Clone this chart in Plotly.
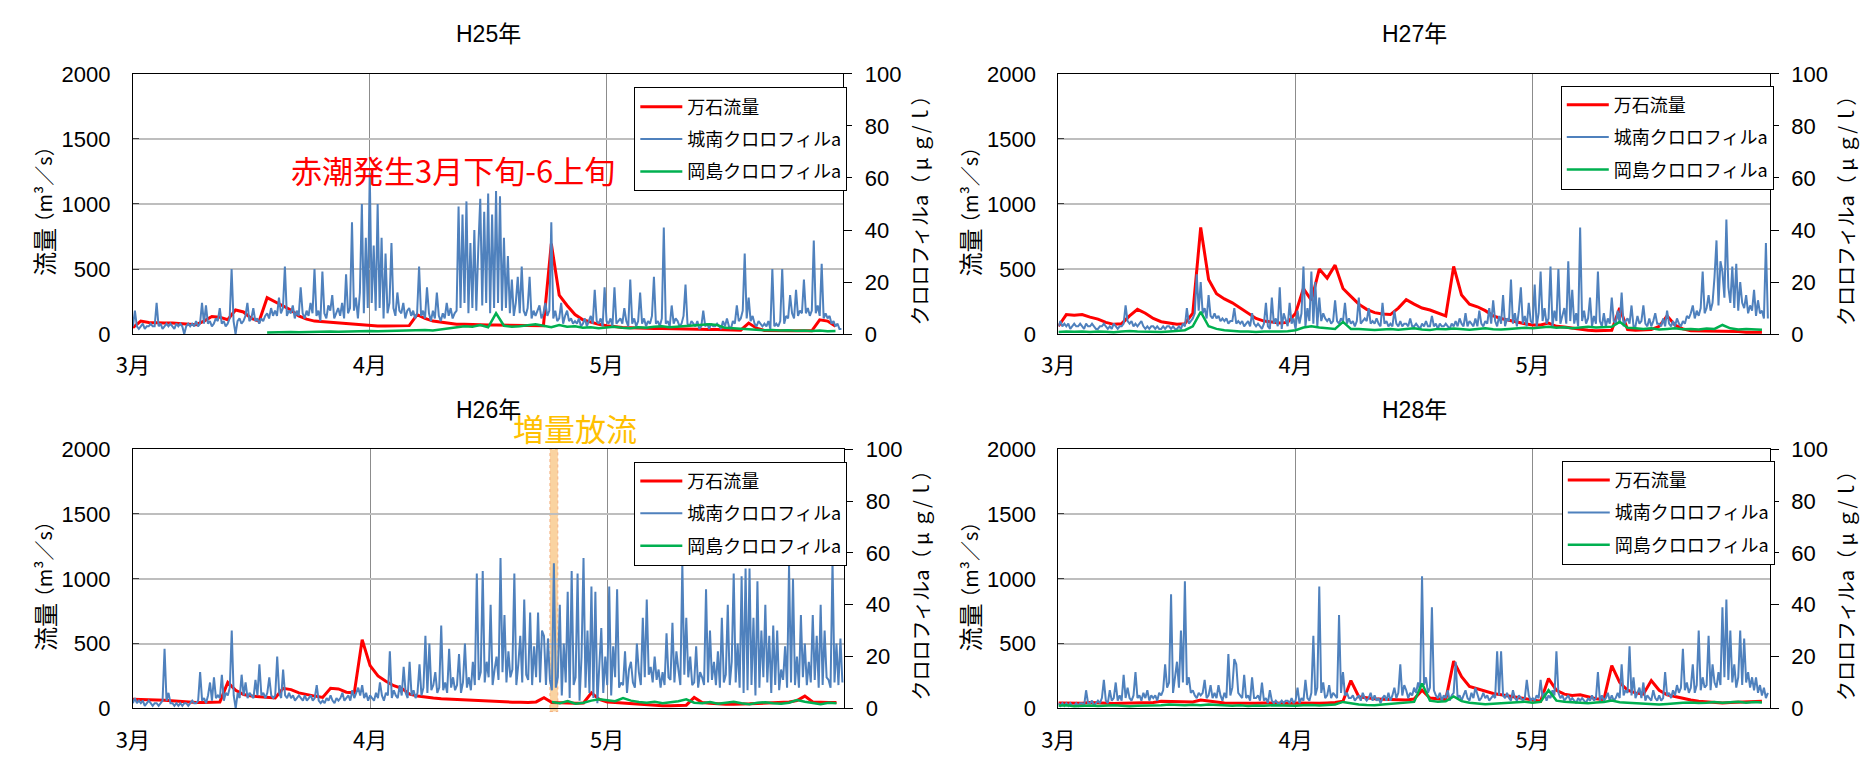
import pandas as pd
import plotly.graph_objects as go

# ---------------------------------------------------------------
# 万石流量 (m3/s): daily values from 3/2
# 城南クロロフィルa (µg/l): 6-hourly values from 3/2 00:00
# 岡島クロロフィルa (µg/l): daily values from 3/2 (None = no data)
# ---------------------------------------------------------------

flow_h25 = [
    50, 100, 90, 85, 85, 85, 80, 75, 72, 100,
    135, 130, 110, 185, 170, 120, 100, 280, 250, 215,
    185, 140, 115, 100, 95, 90, 85, 80, 75, 70,
    65, 62, 62, 62, 62, 65, 150, 120, 100, 90,
    80, 75, 75, 72, 72, 70, 70, 70, 68, 68,
    66, 65, 65, 695, 300, 220, 150, 110, 90, 75,
    65, 55, 50, 48, 45, 45, 42, 42, 40, 40,
    38, 38, 36, 35, 35, 32, 30, 30, 85, 45,
    28, 26, 25, 25, 25, 25, 25, 110, 100, 60,
]

okajima_h25 = [
    None, None, None, None, None, None, None, None, None, None,
    None, None, None, None, None, None, None, 0.6, 0.7, 0.6,
    0.8, 0.7, 0.8, 0.9, 0.8, 1.0, 0.9, 1.0, 1.1, 1.0,
    1.2, 1.1, 1.2, 1.3, 1.2, 1.4, 1.5, 1.6, 1.4, 1.8,
    2.2, 2.5, 3.0, 2.8, 3.5, 2.6, 8.0, 3.2, 2.8, 3.0,
    3.4, 3.8, 3.2, 2.6, 3.5, 2.8, 3.0, 2.4, 2.6, 2.2,
    2.5, 2.8, 2.4, 2.2, 2.6, 2.4, 2.8, 3.0, 2.6, 2.8,
    3.2, 3.4, 3.6, 3.8, 3.5, 2.4, 2.2, 2.0, 1.8, 1.6,
    1.5, 1.6, 1.4, 1.5, 1.3, 1.4, 1.2, 1.4, 1.1, 1.2,
]

jonan_h25 = [
    3, 9, 3, 2, 3, 4, 2, 3,
    3, 4, 3, 3, 12, 3, 4, 2,
    3, 4, 3, 4, 3, 2, 4, 3,
    4, 3, 0, 3, 4, 3, 4, 3,
    5, 3, 4, 12, 4, 11, 4, 5,
    3, 4, 6, 5, 10, 4, 5, 3,
    4, 6, 25, 5, 0, 5, 6, 4,
    5, 7, 12, 5, 6, 10, 5, 6,
    4, 6, 5, 7, 8, 6, 10, 7,
    9, 7, 14, 8, 10, 26, 7, 9,
    8, 11, 6, 9, 7, 18, 8, 6,
    9, 7, 12, 8, 25, 7, 9, 5,
    24, 8, 6, 11, 9, 15, 6, 8,
    10, 7, 12, 6, 23, 8, 10, 43,
    9, 14, 6, 16, 50, 8, 37, 10,
    62, 12, 34, 9, 50, 10, 37, 6,
    31, 8, 12, 35, 10, 7, 16, 9,
    8, 12, 6, 9, 10, 7, 9, 6,
    8, 26, 7, 9, 6, 18, 8, 5,
    9, 6, 16, 7, 5, 8, 6, 12,
    7, 10, 6, 8, 9, 49, 10, 46,
    12, 51, 8, 35, 10, 40, 9, 33,
    52, 11, 47, 12, 54, 8, 46, 10,
    55, 12, 53, 9, 37, 10, 30, 8,
    21, 7, 12, 22, 8, 26, 9, 7,
    10, 22, 6, 9, 7, 9, 11, 6,
    8, 12, 7, 9, 43, 6, 9, 5,
    6, 12, 4, 7, 9, 5, 6, 4,
    5, 4, 6, 3, 4, 6, 3, 5,
    7, 4, 17, 5, 4, 6, 3, 18,
    5, 4, 6, 3, 18, 4, 5, 6,
    4, 10, 5, 3, 21, 4, 6, 3,
    5, 16, 4, 6, 3, 5, 4, 7,
    22, 4, 5, 3, 6, 41, 4, 5,
    3, 11, 4, 6, 5, 3, 4, 7,
    19, 4, 3, 5, 4, 3, 5, 2,
    3, 9, 3, 4, 2, 4, 3, 3,
    4, 3, 2, 5, 3, 6, 3, 2,
    5, 4, 11, 5, 6, 9, 31, 6,
    14, 5, 7, 4, 3, 5, 4, 3,
    4, 3, 5, 2, 25, 3, 4, 3,
    5, 25, 4, 7, 6, 15, 8, 6,
    17, 7, 9, 8, 21, 8, 10, 7,
    9, 36, 8, 11, 7, 27, 6, 8,
    6, 7, 4, 5, 3, 4, 2, 2,
]

flow_h27 = [
    60, 150, 145, 150, 130, 115, 90, 75, 80, 140,
    190, 160, 120, 95, 85, 75, 80, 160, 820, 420,
    310, 270, 240, 200, 160, 120, 100, 90, 85, 90,
    160, 350, 260, 500, 430, 530, 350, 290, 230, 190,
    165, 155, 150, 200, 265, 230, 200, 185, 160, 140,
    520, 300, 230, 210, 180, 140, 120, 105, 90, 80,
    70, 70, 85, 60, 55, 45, 40, 30, 25, 25,
    30, 200, 35, 30, 30, 35, 60, 140, 70, 40,
    25, 25, 20, 20, 20, 20, 20, 15, 15, 15,
]

okajima_h27 = [
    0.8, 1.0, 0.9, 1.0, 0.8, 1.0, 0.9, 0.7, 1.0, 1.2,
    1.0, 0.9, 1.0, 0.8, 1.0, 1.2, 1.5, 3.0, 8.5, 3.0,
    2.0, 1.5, 1.2, 1.0, 1.0, 0.8, 1.0, 0.9, 1.0, 1.1,
    1.5, 2.5, 3.0, 2.5, 2.2, 2.0, 4.7, 2.0, 2.0, 1.8,
    1.6, 1.8, 2.0, 1.7, 1.9, 2.2, 1.8, 1.6, 2.0, 1.9,
    2.1, 1.8, 1.7, 2.0, 2.2, 1.9, 1.8, 2.0, 2.2, 2.4,
    2.2, 2.5, 2.8, 2.4, 2.6, 2.2, 2.4, 2.8, 2.5, 2.6,
    2.8, 4.7, 2.4, 2.2, 2.0, 2.2, 1.8, 2.0, 2.2, 1.9,
    2.0, 1.8, 2.1, 2.0, 3.5, 2.2, 1.8, 2.0, 1.9, 1.7,
]

jonan_h27 = [
    3, 5, 3, 4, 3, 4, 2, 3,
    4, 3, 3, 4, 3, 2, 4, 3,
    3, 4, 3, 2, 2, 3, 3, 4,
    3, 2, 3, 2, 4, 3, 2, 3,
    3, 4, 11, 5, 4, 5, 3, 4,
    3, 4, 5, 3, 2, 3, 2, 3,
    3, 2, 3, 2, 2, 3, 2, 3,
    3, 2, 3, 2, 2, 3, 2, 4,
    3, 10, 4, 5, 6, 8, 23, 9,
    20, 8, 10, 6, 15, 7, 6, 8,
    6, 7, 5, 6, 5, 6, 4, 5,
    5, 10, 4, 5, 4, 5, 3, 4,
    5, 3, 8, 4, 3, 4, 3, 2,
    4, 12, 3, 2, 14, 4, 6, 3,
    18, 2, 8, 5, 3, 12, 4, 6,
    2, 9, 4, 8, 26, 3, 10, 5,
    24, 4, 20, 3, 14, 5, 8, 6,
    5, 6, 4, 5, 13, 5, 4, 6,
    5, 12, 4, 6, 4, 5, 3, 5,
    14, 4, 5, 6, 5, 10, 4, 5,
    4, 6, 4, 3, 12, 4, 5, 3,
    4, 3, 9, 4, 3, 5, 3, 4,
    4, 3, 6, 3, 3, 4, 3, 2,
    4, 3, 5, 3, 3, 7, 3, 4,
    2, 4, 3, 3, 4, 3, 2, 4,
    3, 5, 3, 6, 4, 3, 8, 3,
    5, 4, 3, 6, 3, 9, 4, 3,
    5, 4, 10, 4, 13, 5, 3, 7,
    4, 15, 3, 6, 5, 21, 4, 8,
    3, 9, 18, 4, 7, 3, 12, 5,
    4, 19, 3, 8, 24, 5, 10, 4,
    6, 26, 3, 9, 5, 25, 4, 7,
    10, 4, 28, 5, 17, 4, 8, 3,
    41, 5, 9, 4, 6, 14, 3, 7,
    4, 24, 5, 3, 8, 3, 6, 4,
    14, 5, 4, 9, 4, 16, 3, 5,
    6, 4, 11, 3, 3, 7, 4, 5,
    11, 4, 3, 6, 3, 5, 8, 4,
    4, 3, 6, 3, 9, 4, 3, 5,
    3, 6, 4, 3, 5, 4, 7, 6,
    8, 11, 6, 9, 7, 10, 24, 8,
    10, 15, 9, 12, 22, 36, 11, 28,
    24, 14, 44, 18, 12, 26, 10, 27,
    9, 20, 12, 10, 15, 8, 11, 9,
    17, 7, 13, 8, 9, 6, 35, 6,
]

flow_h26 = [
    70, 70, 68, 65, 62, 58, 50, 45, 45, 45,
    45, 50, 200, 140, 107, 95, 90, 85, 80, 155,
    145, 120, 105, 95, 85, 155, 150, 125, 120, 530,
    330, 250, 210, 175, 155, 110, 95, 85, 80, 75,
    72, 68, 62, 58, 55, 52, 50, 50, 48, 47,
    45, 50, 82, 45, 42, 40, 40, 42, 120, 70,
    50, 45, 40, 35, 32, 28, 22, 20, 20, 22,
    25, 85, 45, 40, 35, 32, 32, 32, 35, 38,
    40, 42, 45, 50, 60, 95, 50, 45, 45, 45,
]

okajima_h26 = [
    None, None, None, None, None, None, None, None, None, None,
    None, None, None, None, None, None, None, None, None, None,
    None, None, None, None, None, None, None, None, None, None,
    None, None, None, None, None, None, None, None, None, None,
    None, None, None, None, None, None, None, None, None, None,
    None, None, None, 2.5, 2.0, 2.8, 1.8, 2.2, 3.0, 3.5,
    3.2, 2.8, 4.0, 3.0, 2.5, 2.2, 2.6, 2.0, 2.4, 2.8,
    3.5, 2.2, 2.0, 2.5, 1.8, 2.2, 2.6, 2.0, 1.6, 2.2,
    2.4, 2.0, 1.8, 2.2, 3.2, 2.6, 2.0, 1.6, 2.2, 2.0,
]

jonan_h26 = [
    2, 4, 2, 3, 2, 3, 1, 2,
    3, 2, 1, 2, 2, 1, 2, 3,
    23, 3, 6, 2, 2, 1, 2, 1,
    2, 1, 2, 2, 1, 2, 3, 2,
    2, 3, 14, 3, 4, 2, 5, 10,
    3, 12, 4, 5, 4, 13, 3, 6,
    5, 8, 30, 5, 0, 6, 4, 13,
    5, 10, 4, 6, 5, 4, 11, 5,
    17, 5, 6, 4, 6, 12, 5, 4,
    5, 20, 6, 4, 15, 5, 4, 6,
    4, 5, 3, 4, 5, 4, 3, 5,
    3, 4, 5, 3, 4, 9, 3, 2,
    3, 2, 4, 3, 5, 3, 2, 4,
    3, 4, 6, 3, 4, 5, 3, 7,
    4, 6, 8, 5, 9, 4, 6, 3,
    5, 4, 3, 6, 4, 10, 5, 3,
    6, 5, 22, 4, 7, 5, 4, 9,
    5, 16, 6, 4, 18, 5, 7, 4,
    6, 17, 5, 8, 28, 6, 25, 7,
    9, 14, 6, 8, 32, 7, 10, 6,
    23, 8, 12, 7, 9, 21, 6, 10,
    25, 8, 12, 7, 18, 9, 52, 11,
    14, 53, 10, 18, 12, 40, 9, 15,
    20, 11, 58, 14, 36, 10, 22, 12,
    15, 52, 9, 17, 28, 10, 42, 13,
    11, 37, 9, 24, 12, 37, 10, 30,
    28, 9, 27, 11, 7, 56, 8, 12,
    40, 5, 25, 10, 45, 4, 53, 9,
    12, 52, 3, 20, 58, 8, 30, 6,
    47, 4, 45, 2, 15, 31, 6, 20,
    9, 47, 5, 24, 12, 46, 8, 10,
    9, 22, 6, 15, 18, 10, 8, 25,
    14, 9, 35, 12, 42, 13, 16, 10,
    20, 11, 15, 8, 14, 9, 29, 12,
    11, 33, 10, 22, 15, 9, 56, 13,
    35, 12, 20, 9, 10, 24, 8, 14,
    12, 9, 46, 10, 30, 11, 18, 9,
    22, 8, 35, 10, 13, 40, 9, 18,
    52, 10, 25, 8, 51, 6, 54, 7,
    54, 9, 35, 5, 49, 8, 30, 12,
    40, 10, 28, 6, 32, 9, 30, 7,
    15, 11, 24, 8, 55, 10, 50, 9,
    20, 8, 36, 12, 25, 9, 18, 10,
    36, 11, 28, 8, 40, 9, 30, 12,
    11, 8, 57, 10, 25, 9, 27, 10,
]

flow_h28 = [
    42, 40, 42, 40, 45, 42, 40, 38, 40, 42,
    40, 42, 45, 55, 55, 50, 55, 50, 65, 60,
    50, 42, 40, 40, 38, 40, 42, 40, 38, 40,
    42, 40, 38, 40, 42, 45, 55, 215, 90, 80,
    75, 70, 68, 70, 65, 72, 140, 80, 72, 68,
    365, 245, 170, 150, 130, 115, 105, 95, 85, 75,
    65, 55, 230, 140, 110, 100, 105, 90, 75, 68,
    330, 200, 140, 120, 110, 215, 140, 105, 90, 75,
    65, 55, 50, 45, 42, 45, 48, 50, 52, 55,
]

okajima_h28 = [
    1.0, 1.2, 0.8, 1.0, 1.1, 0.9, 1.0, 1.2, 1.0, 0.8,
    1.0, 1.1, 1.0, 1.2, 1.5, 1.3, 1.2, 1.4, 1.2, 1.5,
    1.3, 1.1, 1.0, 1.2, 0.9, 1.1, 1.0, 1.2, 1.1, 0.9,
    1.0, 1.2, 1.3, 1.1, 1.4, 1.5, 2.5, 2.0, 1.5, 1.3,
    1.2, 1.5, 1.8, 2.0, 2.2, 2.5, 9.6, 3.0, 2.6, 2.8,
    4.6, 2.8, 2.2, 1.8, 1.6, 1.8, 2.0, 2.2, 2.4, 2.6,
    2.2, 2.5, 7.0, 3.0, 2.6, 2.4, 2.2, 2.0, 2.3, 2.5,
    3.0, 2.4, 2.2, 2.0, 1.8, 1.6, 1.5, 1.7, 2.0, 2.2,
    2.3, 2.1, 2.2, 2.5, 2.2, 2.4, 2.6, 2.2, 2.5, 2.3,
]

jonan_h28 = [
    2, 1, 2, 1, 2, 1, 2, 1,
    1, 2, 1, 2, 2, 1, 7, 2,
    2, 3, 1, 2, 3, 2, 4, 11,
    3, 2, 7, 3, 4, 10, 3, 5,
    3, 13, 4, 8, 4, 3, 5, 14,
    4, 5, 3, 6, 4, 7, 3, 5,
    4, 5, 3, 6, 5, 7, 17, 8,
    10, 44, 6, 12, 18, 8, 30, 10,
    49, 9, 12, 6, 7, 5, 4, 6,
    5, 6, 11, 4, 5, 9, 4, 6,
    4, 9, 5, 3, 6, 4, 21, 5,
    8, 19, 17, 6, 5, 4, 13, 4,
    5, 3, 12, 4, 4, 5, 3, 10,
    3, 4, 2, 7, 3, 2, 3, 2,
    2, 3, 2, 3, 3, 2, 4, 2,
    3, 8, 2, 4, 3, 11, 4, 3,
    6, 28, 5, 8, 47, 6, 10, 4,
    5, 9, 4, 6, 5, 4, 36, 6,
    14, 5, 6, 4, 4, 5, 3, 4,
    5, 3, 6, 4, 3, 4, 6, 3,
    5, 3, 4, 2, 4, 5, 3, 6,
    3, 5, 8, 4, 6, 17, 5, 9,
    7, 4, 6, 5, 8, 6, 10, 7,
    51, 9, 12, 6, 8, 39, 7, 5,
    4, 6, 3, 5, 4, 7, 3, 5,
    6, 18, 4, 5, 3, 5, 7, 4,
    3, 6, 4, 8, 5, 3, 4, 6,
    4, 5, 3, 4, 5, 4, 22, 5,
    22, 5, 4, 6, 4, 3, 7, 4,
    3, 5, 4, 3, 4, 11, 5, 3,
    4, 3, 5, 4, 11, 4, 6, 3,
    5, 4, 7, 5, 22, 6, 4, 5,
    3, 4, 5, 3, 4, 3, 2, 4,
    3, 4, 3, 2, 4, 3, 5, 3,
    4, 14, 3, 5, 3, 4, 6, 3,
    5, 3, 4, 6, 4, 17, 5, 7,
    6, 24, 5, 12, 4, 6, 8, 4,
    10, 3, 5, 4, 3, 7, 4, 3,
    5, 3, 4, 14, 5, 6, 4, 7,
    5, 9, 6, 8, 23, 7, 10, 6,
    8, 17, 6, 9, 30, 7, 12, 8,
    9, 28, 7, 17, 10, 8, 14, 9,
    39, 12, 42, 11, 30, 10, 17, 8,
    12, 30, 9, 27, 10, 14, 8, 12,
    7, 12, 6, 9, 5, 8, 4, 6,
]

series_names = ["万石流量", "城南クロロフィルa", "岡島クロロフィルa"]
month_labels = ["3月", "4月", "5月"]

# ---------------------------------------------------------------
# Figure layout
# ---------------------------------------------------------------
W, H = 1863, 763
FONT = "'Liberation Sans', 'Noto Sans CJK JP', sans-serif"
CJK = "'Noto Sans CJK JP', 'Liberation Sans', sans-serif"
RED, BLUE, GREEN = "#FF0000", "#4F81BD", "#00B050"

panels = [
    dict(title="H25年", year=2013, flow=flow_h25, jonan=jonan_h25, okajima=okajima_h25,
         box=(117, 834, 64, 333), legend_at=(623, 78)),
    dict(title="H27年", year=2015, flow=flow_h27, jonan=jonan_h27, okajima=okajima_h27,
         box=(1051, 1769, 64, 333), legend_at=(1558, 76)),
    dict(title="H26年", year=2014, flow=flow_h26, jonan=jonan_h26, okajima=okajima_h26,
         box=(117, 835, 452, 720), legend_at=(623, 465)),
    dict(title="H28年", year=2016, flow=flow_h28, jonan=jonan_h28, okajima=okajima_h28,
         box=(1051, 1769, 452, 720), legend_at=(1559, 464)),
]

fig = go.Figure()
layout = dict(
    width=W, height=H,
    margin=dict(l=0, r=0, t=0, b=0),
    paper_bgcolor="white", plot_bgcolor="white",
    font=dict(family=FONT, color="black"),
    showlegend=True,
)
annotations = []
shapes = []


def ann(text, x, y, size, color="black", angle=0, family=FONT):
    return dict(text=text, x=x / W, y=1 - y / H, xref="paper", yref="paper",
                showarrow=False, xanchor="center", yanchor="middle",
                textangle=angle, font=dict(size=size, color=color, family=family))


for i, p in enumerate(panels, start=1):
    sfx = "" if i == 1 else str(i)
    xref = "x" + sfx
    yl_n, yr_n = 2 * i - 1, 2 * i
    yl_ref = "y" + ("" if yl_n == 1 else str(yl_n))
    yr_ref = "y" + str(yr_n)
    leg = "legend" + sfx
    yr = p["year"]
    start, end = f"{yr}-03-02", f"{yr}-05-31"

    days = pd.date_range(start, periods=len(p["flow"]), freq="D")
    days_ok = pd.date_range(start, periods=len(p["okajima"]), freq="D")
    quarter_days = pd.date_range(start, periods=len(p["jonan"]), freq="6h")

    fig.add_trace(go.Scatter(
        x=days, y=p["flow"], mode="lines", name=series_names[0],
        line=dict(color=RED, width=3), xaxis=xref, yaxis=yl_ref,
        legend=leg, legendgroup=f"{leg}-flow"))
    fig.add_trace(go.Scatter(
        x=quarter_days, y=p["jonan"], mode="lines", name=series_names[1],
        line=dict(color=BLUE, width=2), xaxis=xref, yaxis=yr_ref,
        legend=leg, legendgroup=f"{leg}-jonan"))
    fig.add_trace(go.Scatter(
        x=days_ok, y=p["okajima"], mode="lines", name=series_names[2],
        line=dict(color=GREEN, width=2.5), xaxis=xref, yaxis=yr_ref,
        legend=leg, legendgroup=f"{leg}-okajima"))

    x0, x1, y0, y1 = p["box"]
    ydom = [1 - y1 / H, 1 - y0 / H]
    layout["xaxis" + sfx] = dict(
        domain=[x0 / W, x1 / W], anchor=yl_ref, type="date",
        range=[start, end],
        tickvals=[start, f"{yr}-04-01", f"{yr}-05-01"], ticktext=month_labels,
        showgrid=True, gridcolor="#8C8C8C", gridwidth=1,
        showline=True, linecolor="black", linewidth=1, mirror=True,
        ticks="", tickfont=dict(size=22, family=CJK), ticklabelstandoff=12,
        zeroline=False)
    layout["yaxis" + ("" if yl_n == 1 else str(yl_n))] = dict(
        domain=ydom, anchor=xref, range=[0, 2000], tick0=0, dtick=500,
        showgrid=True, gridcolor="#BEBEBE", gridwidth=2,
        showline=True, linecolor="black", linewidth=1,
        ticks="inside", ticklen=6, tickcolor="#404040",
        tickfont=dict(size=22), ticklabelstandoff=17, zeroline=False)
    layout["yaxis" + str(yr_n)] = dict(
        domain=ydom, anchor=xref, overlaying=yl_ref, side="right",
        range=[0, 100], tick0=0, dtick=20, showgrid=False,
        showline=True, linecolor="black", linewidth=1,
        ticks="outside", ticklen=8, tickcolor="black",
        tickfont=dict(size=22), ticklabelstandoff=8, zeroline=False)

    lx, ly = p["legend_at"]
    layout[leg] = dict(
        x=lx / W, y=1 - ly / H, xanchor="left", yanchor="top",
        bgcolor="white", bordercolor="black", borderwidth=1,
        font=dict(size=18, family=CJK), tracegroupgap=6, itemwidth=42)

    cy = (y0 + y1) / 2
    annotations.append(ann(p["title"], (x0 + x1) / 2, y0 - 41, 23))
    # left axis title: 流量 in a larger face than the unit
    annotations.append(ann("流量", x0 - 90, cy + 50, 24, angle=-90, family=CJK))
    annotations.append(ann("（m³／s）", x0 - 90, cy - 20, 20, angle=-90, family=CJK))
    annotations.append(ann("クロロフィルa（ μ ｇ/ｌ）", x1 + 77, cy + 2, 20, angle=-90,
                           family=CJK))

# red-tide period note (H25) and flushing release marker (H26)
annotations.append(ann("赤潮発生3月下旬-6上旬", 440, 163, 31, color="#FF0000", family=CJK))
annotations.append(ann("増量放流", 563, 430, 31, color="#FFC000", family=CJK))
shapes.append(dict(
    type="rect", xref="x3", yref="y5 domain",
    x0="2014-04-23 18:00", x1="2014-04-24 18:00", y0=-0.012, y1=1,
    fillcolor="rgba(248,196,128,0.75)",
    line=dict(color="#F4B183", width=1, dash="dot"), layer="below"))

layout["annotations"] = annotations
layout["shapes"] = shapes
fig.update_layout(**layout)
fig.write_html("out.html")
